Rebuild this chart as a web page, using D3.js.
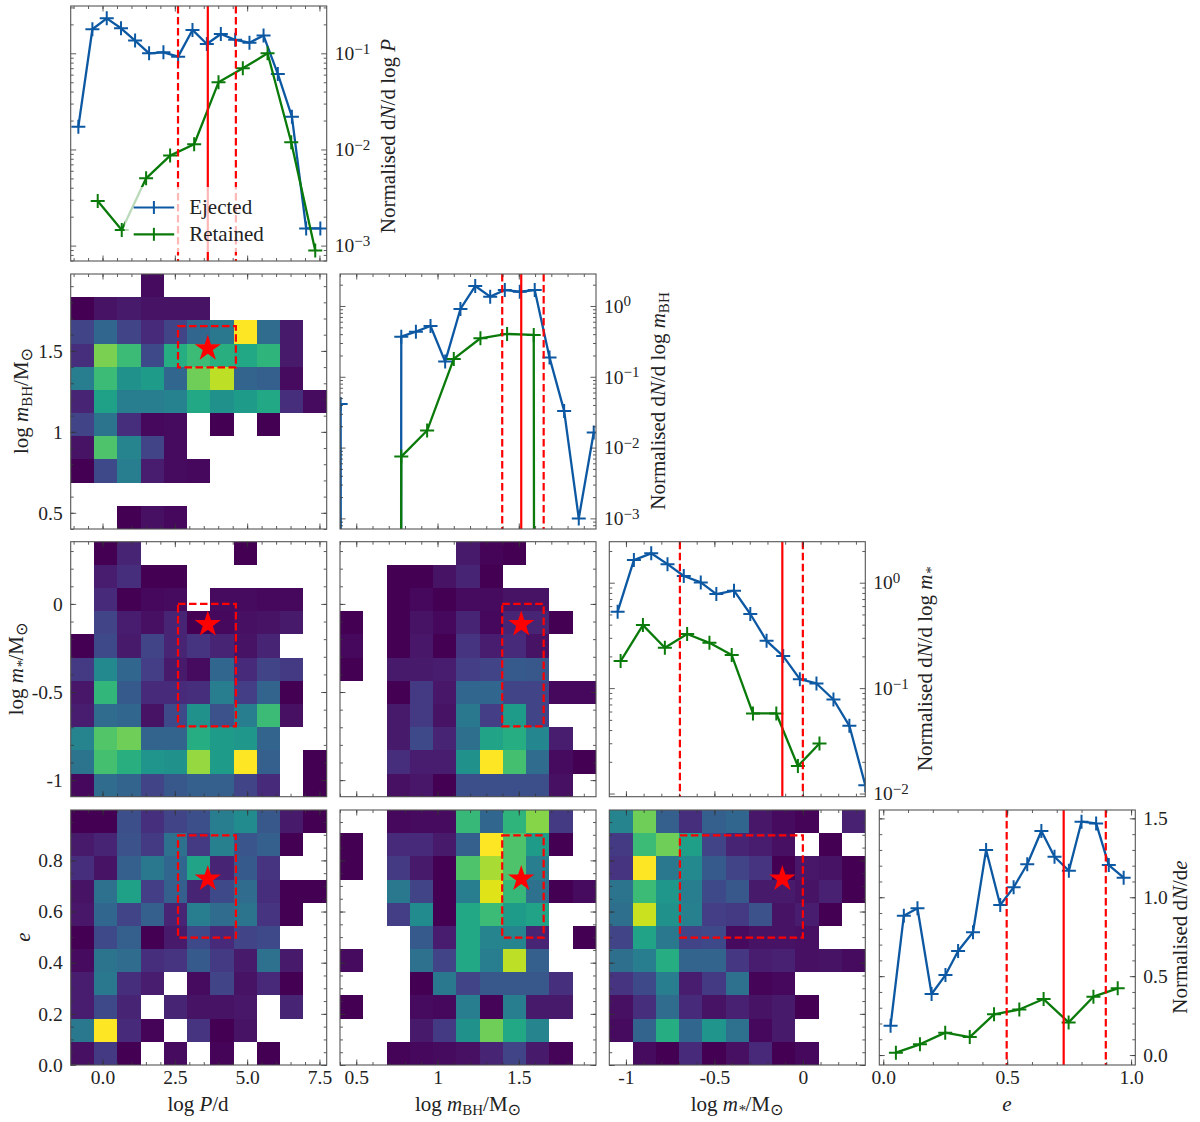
<!DOCTYPE html>
<html>
<head>
<meta charset="utf-8">
<script src="https://cdn.jsdelivr.net/npm/d3@7"></script>
<style>
  body { margin: 0; background: #fff; }
  text { font-family: "Liberation Serif", serif; fill: #222; }
</style>
</head>
<body>
<div id="chart"></div>
<script>
// 1D histograms, x = bin centre, y = normalised dN/dx. 0 means empty bin
const periodEjectedX = [-0.835, -0.35, 0.146, 0.64, 1.126, 1.61, 2.106, 2.614, 3.11, 3.606, 4.09, 4.586, 5.08, 5.567, 6.06, 6.547, 7.04, 7.53];
const periodEjectedY = [0.01726, 0.178, 0.231, 0.182, 0.1356, 0.1, 0.1024, 0.0923, 0.175, 0.125, 0.159, 0.138, 0.129, 0.153, 0.061, 0.0219, 0.00151, 0.00151];
const periodRetainedX = [-0.166, 0.665, 1.507, 2.337, 3.168, 4.01, 4.85, 5.705, 6.524, 7.354];
const periodRetainedY = [0.00291, 0.001455, 0.00501, 0.00863, 0.01132, 0.0499, 0.0698, 0.1, 0.01188, 0.000887];

const bhEjectedX = [0.404, 0.494, 0.585, 0.676, 0.777, 0.867, 0.957, 1.047, 1.141, 1.232, 1.324, 1.414, 1.506, 1.598, 1.689, 1.779, 1.869, 1.961];
const bhEjectedY = [0.0413, 0, 0, 0, 0.369, 0.434, 0.522, 0.164, 0.908, 1.916, 1.355, 1.68, 1.59, 1.68, 0.188, 0.033, 0.001, 0.0163];
const bhRetainedX = [0.613, 0.777, 0.936, 1.10, 1.264, 1.428, 1.592, 1.756];
const bhRetainedY = [0, 0.00746, 0.0174, 0.1786, 0.35, 0.4027, 0.39, 0];

const starEjectedX = [-1.047, -0.955, -0.857, -0.765, -0.673, -0.577, -0.489, -0.389, -0.297, -0.205, -0.111, -0.017, 0.077, 0.173, 0.263, 0.353];
const starEjectedY = [0.531, 1.64, 1.90, 1.50, 1.157, 1.007, 0.78, 0.84, 0.505, 0.281, 0.2014, 0.1217, 0.1107, 0.078, 0.0439, 0.012];
const starRetainedX = [-1.03, -0.904, -0.78, -0.654, -0.528, -0.402, -0.282, -0.15, -0.028, 0.094];
const starRetainedY = [0.1804, 0.396, 0.2416, 0.326, 0.269, 0.2057, 0.0575, 0.0575, 0.0182, 0.0298];

const eccEjectedX = [0.0295, 0.083, 0.138, 0.195, 0.251, 0.302, 0.362, 0.415, 0.472, 0.526, 0.581, 0.638, 0.691, 0.749, 0.80, 0.859, 0.91, 0.97];
const eccEjectedY = [0.186, 0.883, 0.93, 0.387, 0.507, 0.659, 0.778, 1.30, 0.951, 1.063, 1.209, 1.42, 1.257, 1.168, 1.479, 1.468, 1.204, 1.124];
const eccRetainedX = [0.051, 0.148, 0.25, 0.349, 0.447, 0.549, 0.647, 0.748, 0.848, 0.946];
const eccRetainedY = [0.015, 0.068, 0.142, 0.114, 0.258, 0.289, 0.355, 0.207, 0.37, 0.423];

// [lower, median, upper] of the red lines, one per parameter
const periodLines = [2.61, 3.64, 4.61];
const bhLines = [1.398, 1.515, 1.653];
const starLines = [-0.695, -0.116, 0.0];
const eccLines = [0.498, 0.728, 0.898];

// 2D histograms, colour value 0-1 on viridis, top row first, null = empty
const _ = null;
const heatBhPeriod = [
  [_, _, _, .03, _, _, _, _, _, _, _],
  [0, .05, .07, .05, .05, .05, _, _, _, _, _],
  [.2, .33, .2, .12, .2, .33, .4, 1, .35, .07, _],
  [.13, .8, .68, .22, .62, .68, .63, .6, .65, .07, _],
  [.42, .68, .5, .55, .33, .78, .9, .32, .3, .03, _],
  [.1, .57, .42, .42, .44, .6, .5, .55, .6, .13, .03],
  [.2, .38, .13, .02, .03, _, 0, _, 0, _, _],
  [.05, .72, .45, .2, .03, _, _, _, _, _, _],
  [0, .22, .42, .08, .03, .02, _, _, _, _, _],
  [_, _, _, _, _, _, _, _, _, _, _],
  [_, _, 0, .04, .02, _, _, _, _, _, _]
];
const heatStarPeriod = [
  [_, 0, .1, _, _, _, _, 0, _, _, _],
  [_, .08, .13, 0, 0, _, _, _, _, _, _],
  [_, .12, 0, .02, .03, _, .03, .03, .02, .02, _],
  [_, .2, .08, .04, .1, 0, .02, .04, .05, .07, _],
  [0, .22, .07, .2, .1, .15, .1, .05, .1, _, _],
  [.17, .47, .33, .18, .07, .03, .33, .12, .2, .17, _],
  [.06, .66, .28, .12, .12, .13, .42, .18, .32, 0, _],
  [.08, .35, .33, .05, .22, .5, .25, .42, .68, .04, _],
  [.45, .73, .78, .32, .32, .62, .55, .53, .32, _, _],
  [.38, .7, .63, .52, .5, .84, .55, 1, .3, _, 0],
  [.02, .35, .32, .2, .27, .3, .3, .2, .12, _, 0]
];
const heatStarBh = [
  [_, _, _, _, _, .07, .01, 0, _, _, _],
  [_, _, 0, 0, .05, .1, 0, _, _, _, _],
  [_, _, 0, .02, 0, .03, .03, .05, .05, _, _],
  [0, _, 0, .05, .02, .1, .02, .1, .1, 0, _],
  [.02, _, 0, .06, 0, .15, .08, .12, .05, _, _],
  [0, _, .07, .07, .08, .18, .2, .28, .27, _, _],
  [_, _, 0, .17, .06, .33, .33, .2, .2, .02, .02],
  [_, _, .07, .17, .05, .4, .18, .55, .2, _, _],
  [_, _, .07, .22, .1, .36, .58, .62, .46, .08, _],
  [_, _, .13, .08, .08, .5, 1, .7, .35, .03, 0],
  [_, _, .04, .06, 0, .24, .24, .24, .24, .04, _]
];
const heatEccPeriod = [
  [0, 0, .24, .14, .2, .24, .42, .48, .27, .07, 0],
  [.07, .1, .25, .17, .37, .17, .43, .26, .3, 0, _],
  [.13, .05, .3, .4, .33, .58, .1, .28, .15, _, _],
  [.05, .37, .57, .18, .3, .1, .22, .35, .13, 0, 0],
  [.06, .33, .2, .3, .1, .42, .35, .38, .15, 0, _],
  [0, .22, .3, 0, .07, .22, .12, .2, .22, _, _],
  [.03, .38, .35, .13, .15, .28, .17, .07, .37, .07, _],
  [.08, .4, .13, .08, _, .03, .2, .05, .11, 0, _],
  [.08, .22, .1, _, .1, .05, .05, .06, _, .1, _],
  [.4, 1, .12, .01, _, .15, 0, .05, _, _, _],
  [.04, .17, 0, _, .03, _, .01, _, 0, _, _]
];
const heatEccBh = [
  [_, _, .02, .03, .03, .67, .33, .65, .82, .17, _],
  [0, _, .12, .12, .07, .3, 1, .72, .55, 0, _],
  [0, _, .17, .07, 0, .72, .87, .72, .42, _, _],
  [_, _, .4, .2, 0, .42, .95, .67, .37, 0, .03],
  [_, _, .18, .48, 0, .6, .68, .55, .58, _, _],
  [_, _, _, .28, .08, .6, .45, .45, .1, _, 0],
  [.03, _, _, .37, .2, .6, .42, .9, .3, _, _],
  [_, _, _, 0, .4, .2, .27, .27, .27, .14, _],
  [0, _, _, .03, .02, .42, .01, .42, .07, .07, _],
  [_, _, _, .07, .17, .5, .78, .6, .45, _, _],
  [_, _, .01, .02, .03, .04, .1, .2, .07, .01, _]
];
const heatEccStar = [
  [.45, .78, .3, .13, .3, .33, .06, .03, .01, _, .09],
  [.17, .68, .78, .56, .2, .1, .08, .04, _, 0, _],
  [.15, 1, .4, .47, .28, .2, .15, 0, .06, .05, 0],
  [.38, .68, .53, .42, .22, .27, .07, .07, .05, .09, 0],
  [.36, .92, .5, .43, .18, .17, .25, .05, .08, 0, _],
  [.2, .58, .4, .2, .22, .03, .05, .05, .04, _, _],
  [.36, .42, .62, .32, .32, .16, .08, .09, .04, .05, .03],
  [.15, .22, .42, .08, .17, .37, .01, .02, _, _, _],
  [.04, .13, .35, .12, .05, .09, .05, .07, 0, _, _],
  [.03, .32, .62, .33, .52, .37, .02, .07, _, _, _],
  [_, .03, 0, .12, 0, .04, .11, 0, .02, _, _]
];

// tick labels
const periodTicks = [0, 2.5, 5, 7.5];
const bhTicks = [0.5, 1, 1.5];
const starTicks = [-1, -0.5, 0];
const eccXTicks = [0, 0.5, 1];
const eccYTicks = [0, 0.2, 0.4, 0.6, 0.8];
const eccHistTicks = [0, 0.5, 1, 1.5];

const blue = "#0C58A2", green = "#0a7a0a", red = "#ff0000";
const fontSize = 21, tickFont = 19.5;
const W = 256, H = 255;
const colX = [70.7, 340, 609.3, 879.3];
const rowY = [6, 274, 541.7, 810];

const svg = d3.select("#chart").append("svg").attr("width", 1200).attr("height", 1122);

// tick positions between a and b every step, rounded so that they match the majors
const stepsIn = (dom, step) => {
  const lo = Math.min(...dom), hi = Math.max(...dom);
  return d3.range(Math.ceil(lo / step - 1e-6), Math.floor(hi / step + 1e-6) + 1).map(i => +(i * step).toFixed(4));
};
const logMinor = (dom) => {
  const out = [];
  for (let e = -5; e <= 2; e++) for (let m = 2; m <= 9; m++) {
    const v = m * Math.pow(10, e);
    if (v > dom[0] && v < dom[1]) out.push(v);
  }
  return out;
};
const logMajor = (dom) => d3.range(-5, 3).map(e => Math.pow(10, e)).filter(v => v > dom[0] && v < dom[1]);

// x axis settings for each column, y settings for each row of 2D panels
const axes = {
  period: { dom: [-1.1, 7.75], major: periodTicks, step: 0.5, fmt: d3.format(".1f") },
  bh: { dom: [0.4, 1.975], major: bhTicks, step: 0.1, fmt: d => String(d) },
  star: { dom: [-1.094, 0.353], major: starTicks, step: 0.1, fmt: d => String(d) },
  ecc: { dom: [0, 0.997], major: eccYTicks, step: 0.05, fmt: d3.format(".1f") },
  eccHist: { dom: [-0.016, 1.017], major: eccXTicks, step: 0.1, fmt: d3.format(".1f") }
};

function spine(g) {
  g.append("rect").attr("width", W).attr("height", H)
    .attr("fill", "none").attr("stroke", "#555").attr("stroke-width", 1.1);
}

// draws ticks on all four sides, pointing in
function ticks(g, x, xMajor, xMinor, y, yMajor, yMinor) {
  const sides = [
    [d3.axisBottom, x, xMajor, xMinor, `translate(0,${H})`],
    [d3.axisTop, x, xMajor, xMinor, "translate(0,0)"],
    [d3.axisLeft, y, yMajor, yMinor, "translate(0,0)"],
    [d3.axisRight, y, yMajor, yMinor, `translate(${W},0)`]
  ];
  sides.forEach(([ax, s, maj, min, tr]) => {
    [[min, 3], [maj, 5.5]].forEach(([vals, len]) => {
      const a = g.append("g").attr("transform", tr)
        .call(ax(s).tickValues(vals).tickSize(-len).tickFormat(""));
      a.select(".domain").remove();
      a.selectAll("line").attr("stroke", "#333").attr("stroke-width", 0.8);
    });
  });
}

function styleLabels(a) {
  a.select(".domain").remove();
  a.selectAll("text").attr("font-size", tickFont).style("font-family", "Liberation Serif").style("fill", "#222");
}

function xLabels(g, x, vals, fmt) {
  const a = g.append("g").attr("transform", `translate(0,${H})`)
    .call(d3.axisBottom(x).tickValues(vals).tickSize(0).tickPadding(5).tickFormat(fmt));
  styleLabels(a);
}

function yLabels(g, y, vals, fmt) {
  const a = g.append("g").call(d3.axisLeft(y).tickValues(vals).tickSize(0).tickPadding(8).tickFormat(fmt));
  styleLabels(a);
}

function heatPanel(col, row, xAx, yAx, cells, xLines, yLines, showX, showY) {
  const g = svg.append("g").attr("transform", `translate(${colX[col]},${rowY[row]})`);
  const x = d3.scaleLinear().domain(xAx.dom).range([0, W]);
  const y = d3.scaleLinear().domain(yAx.dom).range([H, 0]);
  const cx = d3.scaleBand().domain(d3.range(11)).range([0, W]);
  const cy = d3.scaleBand().domain(d3.range(11)).range([0, H]);
  cells.forEach((rowVals, r) => {
    g.selectAll(null).data(rowVals.map((v, c) => ({ v, c })).filter(d => d.v !== null)).join("rect")
      .attr("x", d => cx(d.c)).attr("y", cy(r))
      .attr("width", cx.bandwidth()).attr("height", cy.bandwidth())
      .attr("shape-rendering", "crispEdges")
      .attr("fill", d => d3.interpolateViridis(d.v));
  });
  g.append("rect")
    .attr("x", x(xLines[0])).attr("y", y(yLines[2]))
    .attr("width", x(xLines[2]) - x(xLines[0])).attr("height", y(yLines[0]) - y(yLines[2]))
    .attr("fill", "none").attr("stroke", red).attr("stroke-width", 2.2).attr("stroke-dasharray", "7.5,3.5");
  g.append("path").attr("d", d3.symbol(d3.symbolStar).size(215)())
    .attr("transform", `translate(${x(xLines[1])},${y(yLines[1])})`).attr("fill", red);
  ticks(g, x, xAx.major, stepsIn(xAx.dom, xAx.step), y, yAx.major, stepsIn(yAx.dom, yAx.step));
  spine(g);
  if (showX) xLabels(g, x, xAx.major, xAx.fmt);
  if (showY) yLabels(g, y, yAx.major, yAx.fmt);
}

function histPanel(idx, xAx, yDom, isLog, series, lines) {
  const g = svg.append("g").attr("transform", `translate(${colX[idx]},${rowY[idx]})`);
  const x = d3.scaleLinear().domain(xAx.dom).range([0, W]);
  const y = (isLog ? d3.scaleLog() : d3.scaleLinear()).domain(yDom).range([H, 0]);
  const clipId = "clip" + idx;
  svg.append("clipPath").attr("id", clipId).append("rect").attr("width", W).attr("height", H);
  const plot = g.append("g").attr("clip-path", `url(#${clipId})`);

  // empty bins go far below the axis so that the line drops almost straight down
  const yVal = v => (isLog && v === 0) ? y(1e-300) : y(v);
  const line = d3.line().x(d => x(d[0])).y(d => yVal(d[1]));
  series.forEach(s => {
    const pts = s.xs.map((v, i) => [v, s.ys[i]]);
    plot.append("path").attr("d", line(pts)).attr("fill", "none")
      .attr("stroke", s.color).attr("stroke-width", 2.3).attr("stroke-linejoin", "round");
    plot.selectAll(null).data(pts.filter(d => !(isLog && d[1] === 0))).join("path")
      .attr("d", "M-7,0H7M0,-7V7")
      .attr("transform", d => `translate(${x(d[0])},${y(d[1])})`)
      .attr("stroke", s.color).attr("stroke-width", 2).attr("fill", "none");
  });
  lines.forEach((v, i) => {
    plot.append("line").attr("x1", x(v)).attr("x2", x(v)).attr("y1", 0).attr("y2", H)
      .attr("stroke", red).attr("stroke-width", 2.2)
      .attr("stroke-dasharray", i === 1 ? null : "7.5,3.5");
  });

  const yMajor = isLog ? logMajor(yDom) : eccHistTicks;
  const yMinor = isLog ? logMinor(yDom) : stepsIn(yDom, 0.1);
  ticks(g, x, xAx.major, stepsIn(xAx.dom, xAx.step), y, yMajor, yMinor);
  spine(g);

  // labels on the right
  const a = g.append("g").attr("transform", `translate(${W},0)`)
    .call(d3.axisRight(y).tickValues(yMajor).tickSize(0).tickPadding(8)
      .tickFormat(d => isLog ? "10" : d3.format(".1f")(d)));
  styleLabels(a);
  if (isLog) {
    a.selectAll("text").append("tspan").attr("dy", "-0.42em").attr("font-size", 15)
      .text(d => { const e = Math.round(Math.log10(d)); return e < 0 ? "\u2212" + (-e) : String(e); });
  }
  return g;
}

// rotated label built from [text, style] parts
function addLabel(px, py, parts, rotate) {
  const t = svg.append("text").attr("text-anchor", "middle").attr("font-size", fontSize)
    .attr("transform", `translate(${px},${py})` + (rotate ? " rotate(-90)" : ""));
  let shift = 0;
  parts.forEach(p => {
    const s = t.append("tspan").text(p.t);
    if (p.i) s.attr("font-style", "italic");
    const target = p.sub ? 4 : 0;
    s.attr("dy", target - shift);
    if (p.sub) s.attr("font-size", 15);
    if (p.sun) s.style("font-family", "DejaVu Sans").attr("font-size", 16);
    shift = target;
  });
}

const yLogP = [Math.pow(10, -3.16), Math.pow(10, -0.508)];
const yLogBh = [Math.pow(10, -3.15), Math.pow(10, 0.452)];
const yLogStar = [Math.pow(10, -2.03), Math.pow(10, 0.389)];

const g0 = histPanel(0, axes.period, yLogP, true, [
  { xs: periodEjectedX, ys: periodEjectedY, color: blue },
  { xs: periodRetainedX, ys: periodRetainedY, color: green }
], periodLines);
histPanel(1, axes.bh, yLogBh, true, [
  { xs: bhEjectedX, ys: bhEjectedY, color: blue },
  { xs: bhRetainedX, ys: bhRetainedY, color: green }
], bhLines);
histPanel(2, axes.star, yLogStar, true, [
  { xs: starEjectedX, ys: starEjectedY, color: blue },
  { xs: starRetainedX, ys: starRetainedY, color: green }
], starLines);
histPanel(3, axes.eccHist, [-0.063, 1.553], false, [
  { xs: eccEjectedX, ys: eccEjectedY, color: blue },
  { xs: eccRetainedX, ys: eccRetainedY, color: green }
], eccLines);

heatPanel(0, 1, axes.period, axes.bh, heatBhPeriod, periodLines, bhLines, false, true);
heatPanel(0, 2, axes.period, axes.star, heatStarPeriod, periodLines, starLines, false, true);
heatPanel(1, 2, axes.bh, axes.star, heatStarBh, bhLines, starLines, false, false);
heatPanel(0, 3, axes.period, axes.ecc, heatEccPeriod, periodLines, eccLines, true, true);
heatPanel(1, 3, axes.bh, axes.ecc, heatEccBh, bhLines, eccLines, true, false);
heatPanel(2, 3, axes.star, axes.ecc, heatEccStar, starLines, eccLines, true, false);

// e ticks on the last panel use the histogram axis
{
  const g = svg.append("g").attr("transform", `translate(${colX[3]},${rowY[3]})`);
  xLabels(g, d3.scaleLinear().domain(axes.eccHist.dom).range([0, W]), eccXTicks, axes.eccHist.fmt);
}

// legend, half transparent box over the lines
const legendData = [["Ejected", blue], ["Retained", green]];
g0.append("rect").attr("x", 54).attr("y", 181).attr("width", 146).attr("height", 65).attr("rx", 3)
  .attr("fill", "#fff").attr("fill-opacity", 0.72);
legendData.forEach(([name, color], i) => {
  const ly = 201.5 + i * 26.8;
  const gl = g0.append("g").attr("transform", `translate(63,${ly})`);
  gl.append("line").attr("x2", 40.5).attr("stroke", color).attr("stroke-width", 2.2);
  gl.append("path").attr("d", "M20.2,-6.5V6.5").attr("stroke", color).attr("stroke-width", 2);
  gl.append("text").attr("x", 55.5).attr("y", 6.6).attr("font-size", fontSize).text(name);
});

const sun = { t: "\u2299", sun: true };
addLabel(198, 1111, [{ t: "log " }, { t: "P", i: true }, { t: "/d" }], false);
addLabel(468, 1111, [{ t: "log " }, { t: "m", i: true }, { t: "BH", sub: true }, { t: "/M" }, { ...sun, sub: true }], false);
addLabel(737, 1111, [{ t: "log " }, { t: "m", i: true }, { t: "*", i: true, sub: true }, { t: "/M" }, { ...sun, sub: true }], false);
addLabel(1007, 1111, [{ t: "e", i: true }], false);

addLabel(28, 401, [{ t: "log " }, { t: "m", i: true }, { t: "BH", sub: true }, { t: "/M" }, { ...sun, sub: true }], true);
addLabel(23, 669, [{ t: "log " }, { t: "m", i: true }, { t: "*", i: true, sub: true }, { t: "/M" }, { ...sun, sub: true }], true);
addLabel(30, 937, [{ t: "e", i: true }], true);

addLabel(395, 136, [{ t: "Normalised d" }, { t: "N", i: true }, { t: "/d log " }, { t: "P", i: true }], true);
addLabel(665, 401, [{ t: "Normalised d" }, { t: "N", i: true }, { t: "/d log " }, { t: "m", i: true }, { t: "BH", sub: true }], true);
addLabel(932, 669, [{ t: "Normalised d" }, { t: "N", i: true }, { t: "/d log " }, { t: "m", i: true }, { t: "*", i: true, sub: true }], true);
addLabel(1187, 937, [{ t: "Normalised d" }, { t: "N", i: true }, { t: "/d" }, { t: "e", i: true }], true);
</script>
</body>
</html>
